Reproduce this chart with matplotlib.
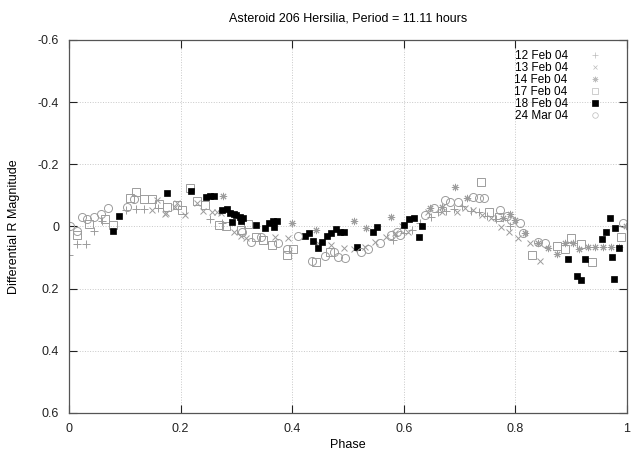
import matplotlib
matplotlib.use("Agg")
import matplotlib.pyplot as plt
from matplotlib.lines import Line2D

plt.rcParams['font.family'] = ['Liberation Sans', 'DejaVu Sans']

# 12 Feb 04 (+)
ph_12feb = [0.000, 0.015, 0.030, 0.044, 0.059, 0.103, 0.120, 0.135, 0.160, 0.253, 0.275,
            0.580, 0.600, 0.615, 0.630, 0.648, 0.662, 0.675, 0.690, 0.705, 0.720, 0.735,
            0.750, 0.765, 0.790]
mag_12feb = [0.092, 0.057, 0.057, 0.014, -0.018, -0.053, -0.055, -0.055, -0.060, -0.023, -0.010,
             0.045, 0.020, 0.010, -0.010, -0.030, -0.045, -0.050, -0.055, -0.065, -0.050, -0.045,
             -0.035, -0.025, 0.000]

# 13 Feb 04 (x)
ph_13feb = [0.148, 0.157, 0.172, 0.174, 0.190, 0.193, 0.208, 0.229, 0.241, 0.256, 0.265, 0.272,
            0.296, 0.309, 0.318, 0.369, 0.392, 0.447, 0.470, 0.492, 0.510, 0.530, 0.548, 0.569,
            0.584, 0.596, 0.608, 0.644, 0.668, 0.695, 0.710, 0.725, 0.740, 0.757, 0.775, 0.788,
            0.805, 0.826, 0.844]
mag_13feb = [-0.053, -0.085, -0.039, -0.042, -0.064, -0.077, -0.037, -0.075, -0.051, -0.048, -0.048, -0.042,
             0.017, 0.031, 0.038, 0.033, 0.038, 0.054, 0.060, 0.070, 0.072, 0.065, 0.049, 0.033,
             0.022, 0.000, 0.017, -0.048, -0.048, -0.048, -0.059, -0.053, -0.037, -0.026, 0.001, 0.017,
             0.038, 0.054, 0.110]

# 14 Feb 04 (*)
ph_14feb = [0.276, 0.399, 0.442, 0.511, 0.533, 0.578, 0.647, 0.668, 0.691, 0.713, 0.777, 0.790,
            0.800, 0.817, 0.841, 0.859, 0.875, 0.889, 0.903, 0.914, 0.930, 0.943, 0.958, 0.972,
            0.986, 0.998]
mag_14feb = [-0.098, -0.012, 0.011, -0.019, 0.006, -0.032, -0.061, -0.064, -0.128, -0.091, -0.028, -0.040,
             -0.020, 0.022, 0.054, 0.070, 0.088, 0.052, 0.054, 0.073, 0.065, 0.067, 0.067, 0.065,
             0.067, 0.000]

# 17 Feb 04 (open squares)
ph_17feb = [0.014, 0.035, 0.065, 0.079, 0.109, 0.120, 0.135, 0.149, 0.162, 0.175, 0.193, 0.202,
            0.217, 0.229, 0.244, 0.268, 0.282, 0.309, 0.321, 0.336, 0.348, 0.363, 0.390, 0.402,
            0.442, 0.468, 0.738, 0.753, 0.770, 0.829, 0.874, 0.889, 0.899, 0.918, 0.938, 0.989]
mag_17feb = [0.027, -0.007, -0.023, -0.005, -0.093, -0.112, -0.088, -0.088, -0.071, -0.064, -0.069, -0.053,
             -0.125, -0.083, -0.069, -0.005, -0.002, 0.011, -0.008, 0.033, 0.043, 0.060, 0.092, 0.072,
             0.115, 0.081, -0.142, -0.048, -0.030, 0.092, 0.063, 0.073, 0.036, 0.056, 0.113, 0.033]

# 18 Feb 04 (filled squares)
ph_18feb = [0.079, 0.090, 0.176, 0.219, 0.245, 0.253, 0.260, 0.275, 0.283, 0.289, 0.292, 0.295,
            0.300, 0.306, 0.312, 0.309, 0.336, 0.351, 0.359, 0.366, 0.373, 0.368, 0.423, 0.430,
            0.437, 0.447, 0.453, 0.463, 0.470, 0.478, 0.486, 0.493, 0.517, 0.545, 0.552, 0.601,
            0.610, 0.619, 0.632, 0.627, 0.894, 0.910, 0.918, 0.924, 0.955, 0.962, 0.970, 0.978,
            0.973, 0.977, 0.986]
mag_18feb = [0.013, -0.034, -0.109, -0.115, -0.096, -0.098, -0.099, -0.053, -0.057, -0.044, -0.015, -0.040,
             -0.037, -0.031, -0.026, -0.019, -0.005, 0.006, -0.012, -0.019, -0.018, 0.001, 0.031, 0.020,
             0.046, 0.070, 0.049, 0.031, 0.020, 0.007, 0.019, 0.019, 0.067, 0.017, 0.003, -0.005,
             -0.023, -0.028, -0.002, 0.035, 0.105, 0.159, 0.173, 0.104, 0.041, 0.018, -0.026, 0.004,
             0.097, 0.168, 0.070]

# 24 Mar 04 (open circles)
ph_24mar = [0.002, 0.014, 0.023, 0.033, 0.045, 0.057, 0.069, 0.104, 0.116, 0.310, 0.327, 0.345,
            0.375, 0.390, 0.411, 0.435, 0.458, 0.475, 0.482, 0.494, 0.523, 0.536, 0.557, 0.578,
            0.587, 0.593, 0.638, 0.655, 0.674, 0.683, 0.698, 0.725, 0.734, 0.744, 0.772, 0.785,
            0.793, 0.808, 0.813, 0.841, 0.853, 0.993]
mag_24mar = [-0.003, 0.014, -0.030, -0.023, -0.032, -0.039, -0.059, -0.064, -0.088, 0.017, 0.049, 0.035,
             0.054, 0.072, 0.031, 0.111, 0.095, 0.081, 0.097, 0.102, 0.081, 0.072, 0.054, 0.027,
             0.017, 0.027, -0.037, -0.060, -0.085, -0.080, -0.078, -0.096, -0.091, -0.093, -0.053, -0.035,
             -0.021, -0.010, 0.022, 0.049, 0.052, -0.010]

x_ticks = [0, 0.2, 0.4, 0.6, 0.8, 1]
x_labels = ['0', '0.2', '0.4', '0.6', '0.8', '1']
y_ticks = [-0.6, -0.4, -0.2, 0, 0.2, 0.4, 0.6]
y_labels = ['-0.6', '-0.4', '-0.2', '0', '0.2', '0.4', '0.6']

grey = '#9c9c9c'

fig = plt.figure(figsize=(6.42, 4.58), dpi=100)
ax = fig.add_axes([0.1075, 0.0983, 0.869, 0.8144])

ax.plot(ph_12feb, mag_12feb, ls='none', marker='+', ms=5.5, mew=0.7, color=grey)
ax.plot(ph_13feb, mag_13feb, ls='none', marker='x', ms=4.8, mew=0.7, color=grey)
ax.plot(ph_14feb, mag_14feb, ls='none', marker=(8, 2, 0), ms=5.2, mew=0.7, color=grey)
ax.plot(ph_17feb, mag_17feb, ls='none', marker='s', ms=5.2, mew=0.7, mfc='none', color=grey)
ax.plot(ph_18feb, mag_18feb, ls='none', marker='s', ms=5, mew=0.5, color='black')
ax.plot(ph_24mar, mag_24mar, ls='none', marker='o', ms=5.8, mew=0.7, mfc='none', color=grey)

ax.set_xlim(0, 1)
ax.set_ylim(0.6, -0.6)
ax.set_xticks(x_ticks, x_labels)
ax.set_yticks(y_ticks, y_labels)
ax.tick_params(direction='in', length=6, width=0.8, top=True, right=True, labelsize=9,
               colors='#222222', pad=7)
ax.grid(True, linestyle=':', linewidth=0.7, color='#c8c8c8')
for s in ax.spines.values():
    s.set_color('#555555')
    s.set_linewidth(0.9)

ax.set_title('Asteroid 206 Hersilia, Period = 11.11 hours', fontsize=9, pad=13)
ax.set_xlabel('Phase', fontsize=9, labelpad=3)
ax.set_ylabel('Differential R Magnitude', fontsize=9, labelpad=13)

labels = ['12 Feb 04', '13 Feb 04', '14 Feb 04', '17 Feb 04', '18 Feb 04', '24 Mar 04']
lg = '#bbbbbb'
handles = [
    Line2D([], [], ls='none', marker='+', ms=4, mew=0.5, color=lg),
    Line2D([], [], ls='none', marker='x', ms=3.5, mew=0.5, color=lg),
    Line2D([], [], ls='none', marker=(8, 2, 0), ms=4, mew=0.5, color=lg),
    Line2D([], [], ls='none', marker='s', ms=4, mew=0.5, mfc='none', color=lg),
    Line2D([], [], ls='none', marker='s', ms=4, mew=0.5, color='black'),
    Line2D([], [], ls='none', marker='o', ms=4, mew=0.5, mfc='none', color=lg),
]
ax.legend(handles, labels, loc='upper right', frameon=False, markerfirst=False, fontsize=8.5,
          handlelength=1.5, handletextpad=1.6, labelspacing=0.0, borderaxespad=0.0,
          bbox_to_anchor=(0.968, 0.985))

fig.savefig('out.png', dpi=100)
